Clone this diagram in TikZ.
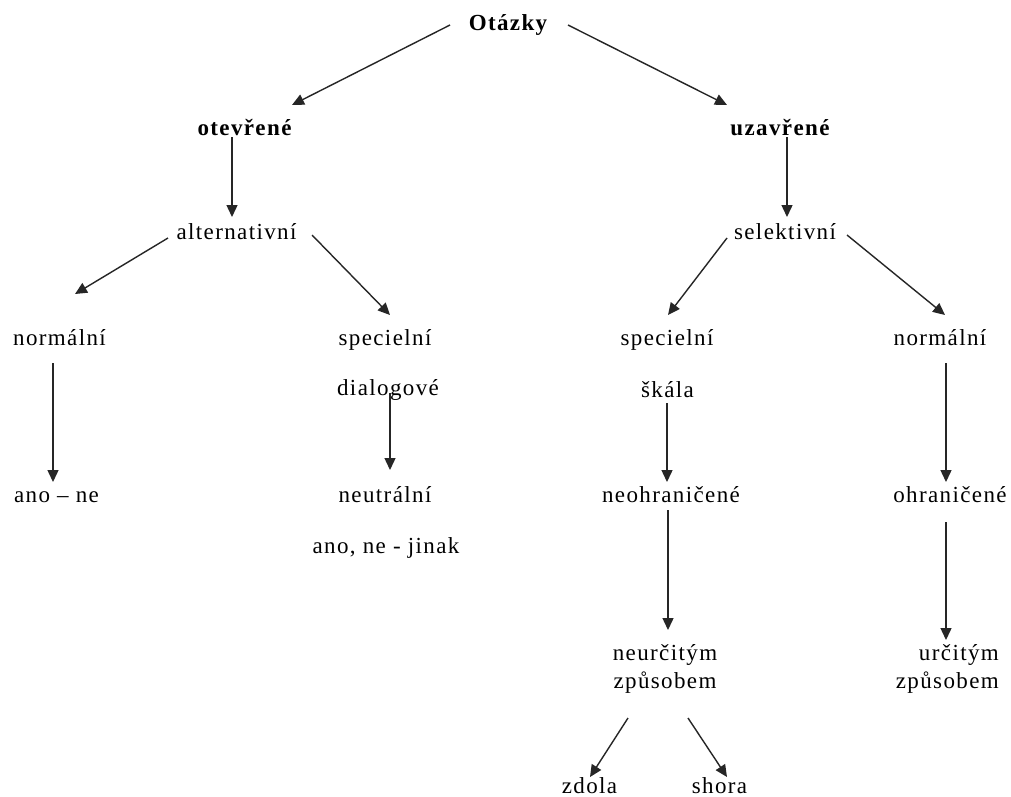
\documentclass[tikz,border=0pt]{standalone}
\usepackage{fontspec}
\setmainfont{Liberation Serif}[LetterSpace=6]
\usetikzlibrary{arrows.meta}
\begin{document}
\begin{tikzpicture}[x=1pt,y=-1pt,
  lbl/.style={inner sep=0pt,anchor=base,font=\fontsize{23}{28}\selectfont},
  bold/.style={font=\fontsize{23}{28}\selectfont\bfseries},
  arr/.style={draw=black!85,line width=1.4pt,-{Triangle[length=12pt,width=11pt]}}]
\useasboundingbox[fill=white] (0,0) rectangle (1011,796);
% nodes
\node[lbl,bold] (Q) at (508,30) {Otázky};
\node[lbl,bold] (ot) at (244.5,135) {otevřené};
\node[lbl,bold] (uz) at (780,135) {uzavřené};
\node[lbl] (alt) at (236.5,239) {alternativní};
\node[lbl] (sel) at (785,239) {selektivní};
\node[lbl] (n1) at (59.5,345) {normální};
\node[lbl] (sp1) at (385,345) {specielní};
\node[lbl] (dia) at (388,395) {dialogové};
\node[lbl] (ano) at (56.5,502) {ano – ne};
\node[lbl] (neu) at (385,502) {neutrální};
\node[lbl] (jin) at (386,553) {ano, ne - jinak};
\node[lbl] (sp2) at (667,345) {specielní};
\node[lbl] (n2) at (940,345) {normální};
\node[lbl] (sk) at (667.5,397) {škála};
\node[lbl] (neo) at (671,502) {neohraničené};
\node[lbl] (ohr) at (950,502) {ohraničené};
\node[lbl,align=center] (neur) at (665,688) {neurčitým\\způsobem};
\node[lbl,align=right,anchor=base east] (urc) at (999,688) {určitým\\způsobem};
\node[lbl] (zd) at (589.5,793) {zdola};
\node[lbl] (sh) at (719.5,793) {shora};
% connectors
\draw[arr] ([shift={(-58,-5)}]Q.base) -- ([shift={(47.5,-30)}]ot.base);
\draw[arr] ([shift={(60,-5)}]Q.base) -- ([shift={(-53,-30)}]uz.base);
\draw[arr] ([shift={(-12.5,2)}]ot.base) -- ([shift={(-4.5,-22)}]alt.base);
\draw[arr] ([shift={(7,2)}]uz.base) -- ([shift={(2,-22)}]sel.base);
\draw[arr] ([shift={(-68.5,-1)}]alt.base) -- ([shift={(15.5,-51)}]n1.base);
\draw[arr] ([shift={(75.5,-4)}]alt.base) -- ([shift={(5,-30)}]sp1.base);
\draw[arr] ([shift={(-58,-1)}]sel.base) -- ([shift={(1,-30)}]sp2.base);
\draw[arr] ([shift={(62,-4)}]sel.base) -- ([shift={(5,-30)}]n2.base);
\draw[arr] ([shift={(-6.5,18)}]n1.base) -- ([shift={(-3.5,-20)}]ano.base);
\draw[arr] ([shift={(2,-2)}]dia.base) -- ([shift={(5,-32)}]neu.base);
\draw[arr] ([shift={(-0.5,6)}]sk.base) -- ([shift={(-4,-20)}]neo.base);
\draw[arr] ([shift={(6,18)}]n2.base) -- ([shift={(-4,-20)}]ohr.base);
\draw[arr] ([shift={(-3,8)}]neo.base) -- ([shift={(3,-58)}]neur.base);
\draw[arr] ([shift={(-4,20)}]ohr.base) -- ([shift={(-53,-48)}]urc.base east);
\draw[arr] ([shift={(-37,30)}]neur.base) -- ([shift={(0.5,-16)}]zd.base);
\draw[arr] ([shift={(23,30)}]neur.base) -- ([shift={(7.5,-16)}]sh.base);
\end{tikzpicture}
\end{document}
